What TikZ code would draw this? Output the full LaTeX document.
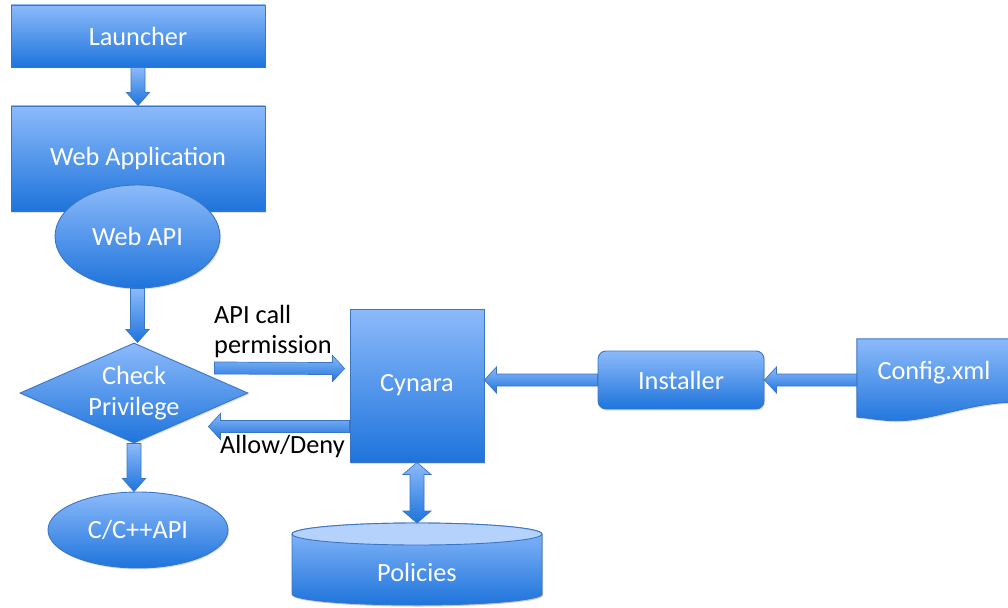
\documentclass[tikz,border=0pt]{standalone}
\usepackage{fontspec}
\setmainfont{Carlito}
\usetikzlibrary{calc,shapes.geometric,shadows}
\pgfdeclarelayer{background}
\pgfsetlayers{background,main}
\definecolor{lightb}{RGB}{140,186,250}
\definecolor{darkb}{RGB}{30,116,220}
\definecolor{bordc}{RGB}{58,118,196}
\definecolor{toplid}{RGB}{180,210,251}
\tikzset{
  box/.style={draw=bordc, line width=0.9pt, top color=lightb, bottom color=darkb,
    text=white, font=\fontsize{26.3}{31}\selectfont, inner sep=0pt, align=center,
    drop shadow={shadow xshift=1pt, shadow yshift=-1.5pt, opacity=0.25}},
  plain/.style={text=white, font=\fontsize{26.3}{31}\selectfont, inner sep=0pt, align=center},
  lbl/.style={text=black, font=\fontsize{26.3}{30}\selectfont, inner sep=0pt, align=left},
  barrow/.style={draw=bordc, line width=0.7pt, top color=lightb, bottom color=darkb, line join=miter}
}
\newcommand\bdown[2]{\path[barrow] ($#1+(-7,0)$) -- ($#2+(-7,-13)$) -- ($#2+(-11.5,-13)$) -- #2 -- ($#2+(11.5,-13)$) -- ($#2+(7,-13)$) -- ($#1+(7,0)$) -- cycle;}
\newcommand\bright[2]{\path[barrow] ($#1+(0,-6)$) -- ($#2+(-12,-6)$) -- ($#2+(-12,-13)$) -- #2 -- ($#2+(-12,13)$) -- ($#2+(-12,6)$) -- ($#1+(0,6)$) -- cycle;}
\newcommand\bleft[2]{\path[barrow] ($#1+(0,-6)$) -- ($#2+(12,-6)$) -- ($#2+(12,-13)$) -- #2 -- ($#2+(12,13)$) -- ($#2+(12,6)$) -- ($#1+(0,6)$) -- cycle;}
\newcommand\bupdown[2]{\path[barrow] #1 -- ($#1+(14,12)$) -- ($#1+(7,12)$) -- ($#2+(7,-12)$) -- ($#2+(14,-12)$) -- #2 -- ($#2+(-14,-12)$) -- ($#2+(-7,-12)$) -- ($#1+(-7,12)$) -- ($#1+(-14,12)$) -- cycle;}
\begin{document}
\begin{tikzpicture}[x=1pt,y=-1pt]
\path[use as bounding box] (0,0) rectangle (1008,607);
\begin{pgfonlayer}{background}
\fill[white] (0,0) rectangle (1008,607);
\end{pgfonlayer}

% left column
\node[box, minimum width=254, minimum height=62] (launch) at (138,36) {Launcher};
\node[box, minimum width=254, minimum height=105] (webapp) at (138,158.5) {Web Application};
\node[box, ellipse, minimum width=165, minimum height=103] (webapi) at (137.5,236.5) {Web API};
\node[box, diamond, minimum width=228, minimum height=100,
  label={[plain]center:Check\\Privilege}] (chk) at (134,393) {};
\node[box, ellipse, minimum width=180, minimum height=76] (capi) at (138,530) {C/C++API};

% Cynara
\node[box, minimum width=134, minimum height=153] (cyn) at (417,385.5) {Cynara};

% Installer
\node[box, rounded corners=8pt, minimum width=166, minimum height=58] (inst) at (681,380) {Installer};

% Config.xml document shape
\node[plain, minimum width=154, minimum height=68] (cfg) at (934,373) {Config.xml};
\begin{pgfonlayer}{background}
\path[barrow, line width=0.9pt, drop shadow={shadow xshift=1pt, shadow yshift=-1.5pt, opacity=0.25}]
  (cfg.north west) -- (cfg.north east) -- ($(cfg.south east)+(0,-5)$)
  .. controls (960,404) and (925,425) .. (883,420)
  .. controls (870,419) and (862,417) .. ($(cfg.south west)+(0,10)$) -- cycle;
\end{pgfonlayer}

% Policies cylinder
\node[plain] (pol) at (417,572) {Policies};
\coordinate (poltop) at ($(pol)+(0,-49)$);
\begin{pgfonlayer}{background}
\path[box, drop shadow={shadow xshift=1pt, shadow yshift=-1.5pt, opacity=0.25}]
  ($(pol)+(-125,-38)$) -- ($(pol)+(-125,22)$)
  arc[start angle=180, end angle=360, x radius=125pt, y radius=11pt]
  -- ($(pol)+(125,-38)$)
  arc[start angle=0, end angle=180, x radius=125pt, y radius=11pt] -- cycle;
\draw[bordc, line width=0.9pt, fill=toplid] ($(pol)+(0,-38)$) ellipse[x radius=125pt, y radius=11pt];
\end{pgfonlayer}

% connectors
\bdown{(launch.south)}{(webapp.north)}
\bdown{(webapi.south)}{(webapi.south |- chk.north)}
\bdown{(chk.south)}{(chk.south |- capi.north)}

\coordinate (apis) at ($(chk.east)+(-34,-25)$);
\coordinate (apit) at ($(cyn.west)+(-5,-17)$);
\bright{(apis)}{(apit)}

\coordinate (ads) at ($(cyn.west)+(0,41)$);
\coordinate (adx) at ($(chk.east)+(-40,0)$);
\bleft{(ads)}{(adx |- ads)}

\bleft{(inst.west)}{(inst.west -| cyn.east)}
\bleft{(cfg.west |- inst.east)}{(inst.east)}
\bupdown{(cyn.south)}{(poltop)}

% labels
\node[lbl, anchor=west] (apilbl) at (214,331) {API call\\permission};
\node[lbl, anchor=west] (adlbl) at (220,446) {Allow/Deny};
\end{tikzpicture}
\end{document}
